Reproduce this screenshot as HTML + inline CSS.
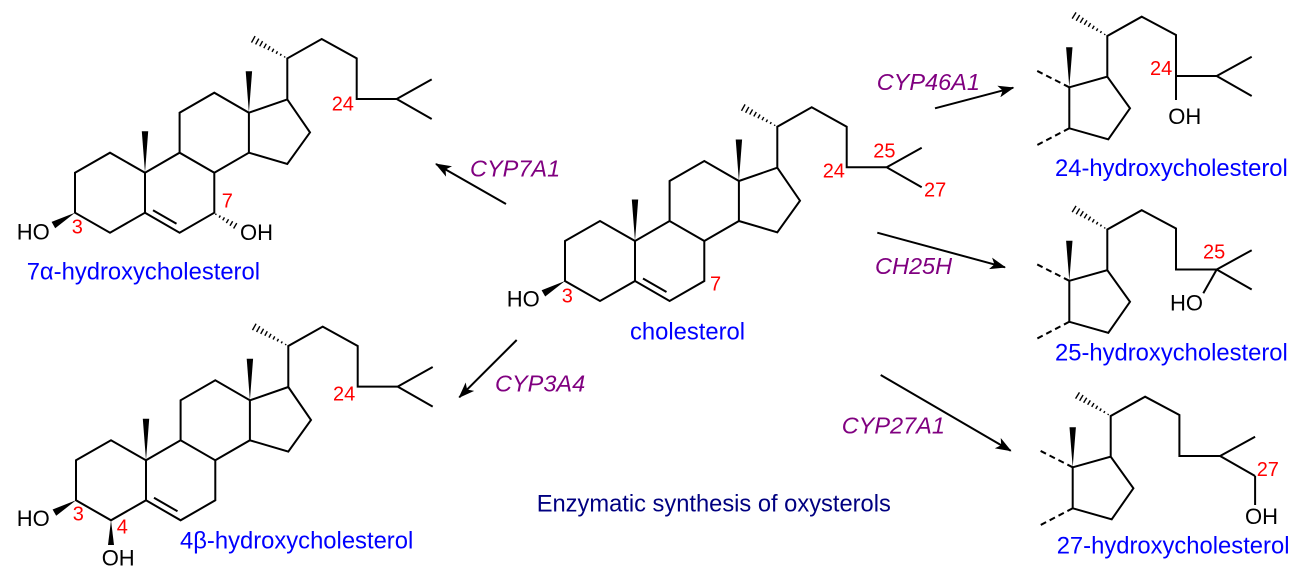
<!DOCTYPE html>
<html>
<head>
<meta charset="utf-8">
<style>
  html,body{margin:0;padding:0;background:#fff;}
  svg{display:block;}
  text{font-family:"Liberation Sans",Arial,sans-serif;}
  .lbl{font-size:23.8px;fill:#0000ff;}
  .enz{font-size:23.5px;fill:#800080;font-style:italic;}
  .atom{font-size:22px;fill:#000;}
  .num{font-size:20px;fill:#ff0000;}
</style>
</head>
<body>
<svg width="1304" height="580" viewBox="0 0 1304 580" xmlns="http://www.w3.org/2000/svg">
  <defs>
    <g id="hash" stroke="#000" stroke-width="1.4">
      <line x1="3" y1="-0.65" x2="3" y2="0.65"/>
      <line x1="7.5" y1="-1.04" x2="7.5" y2="1.04"/>
      <line x1="12" y1="-1.42" x2="12" y2="1.42"/>
      <line x1="16.5" y1="-1.8" x2="16.5" y2="1.8"/>
      <line x1="21" y1="-2.19" x2="21" y2="2.19"/>
      <line x1="25.5" y1="-2.57" x2="25.5" y2="2.57"/>
      <line x1="30" y1="-2.95" x2="30" y2="2.95"/>
      <line x1="34.5" y1="-3.33" x2="34.5" y2="3.33"/>
      <line x1="39" y1="-3.7" x2="39" y2="3.7"/>
    </g>
    <g id="hashS" stroke="#000" stroke-width="1.4">
      <line x1="3" y1="-0.7" x2="3" y2="0.7"/>
      <line x1="7.5" y1="-1.2" x2="7.5" y2="1.2"/>
      <line x1="12" y1="-1.7" x2="12" y2="1.7"/>
      <line x1="16.5" y1="-2.2" x2="16.5" y2="2.2"/>
      <line x1="21" y1="-2.6" x2="21" y2="2.6"/>
      <line x1="25.5" y1="-3.1" x2="25.5" y2="3.1"/>
    </g>
    <marker id="ah" markerUnits="userSpaceOnUse" markerWidth="16" markerHeight="12" viewBox="0 0 16 12" refX="15" refY="6" orient="auto">
      <path d="M0,0 L16,6 L0,12 L4,6 Z" fill="#000"/>
    </marker>

    <g id="chol">
      <path fill="none" stroke="#000" stroke-width="2" d="
        M565,241 L600,221 L635,241 L635,281 L600,301 L565,281 Z
        M635,241 L669.6,221 L704.3,241 L704.3,281 L669.6,301 L635,281
        M669.6,221 L669.6,181 L704.3,161 L738.9,181 L738.9,221 L704.3,241
        M738.9,181 L777.3,167.7 L800,200.7 L777.3,232.3 L738.9,221
        M777.3,167.7 L777.3,126.7 L811.7,107.3 L846.7,126.7 L846.7,167.3 L886.7,167.3 L921.7,147.7
        M886.7,167.3 L921.7,187.3
        M643,278.5 L666.5,292"/>
      <polygon points="635,241 631.8,199.5 638.2,199.5" fill="#000"/>
      <polygon points="738.9,181 735.7,139.5 742.1,139.5" fill="#000"/>
      <polygon points="565,281 545.2,296.5 541.6,290.2" fill="#000"/>
      <use href="#hash" transform="translate(777.3,126.7) rotate(209.3)"/>
    </g>

    <g id="frag">
      <path fill="none" stroke="#000" stroke-width="2" d="
        M1069.3,87.3 L1107.3,76.7 L1130,108.3 L1108.3,139.3 L1069.3,128.3 Z
        M1107.3,76.7 L1107.3,36 L1141.7,16.7 L1176,35 L1176,76 L1216.7,76 L1251.7,56.7
        M1216.7,76 L1251.7,96"/>
      <path fill="none" stroke="#000" stroke-width="2" stroke-dasharray="6,4" d="M1069.3,87.3 L1034,69.3 M1069.3,128.3 L1034,146.7"/>
      <polygon points="1069.3,87.3 1066.1,47.3 1072.5,47.3" fill="#000"/>
      <use href="#hash" transform="translate(1107.3,36) rotate(211.7)"/>
    </g>
  </defs>

  <use href="#chol"/>
  <text class="atom" x="506.7" y="306.5">HO</text>
  <text class="num" x="561.7" y="302.7">3</text>
  <text class="num" x="710" y="290.7">7</text>
  <text class="num" x="822.7" y="177.7">24</text>
  <text class="num" x="873.3" y="157.3">25</text>
  <text class="num" x="924" y="196.7">27</text>
  <text class="lbl" x="630" y="339.3">cholesterol</text>

  <use href="#chol" transform="translate(-490,-68.3)"/>
  <use href="#hashS" transform="translate(213.3,212.7) rotate(30.9)"/>
  <text class="atom" x="16.7" y="239.5">HO</text>
  <text class="num" x="71.7" y="233.3">3</text>
  <text class="num" x="221.7" y="207.7">7</text>
  <text class="atom" x="240" y="240">OH</text>
  <text class="num" x="331.7" y="110.7">24</text>
  <text class="lbl" x="26.7" y="279.3">7α-hydroxycholesterol</text>

  <use href="#chol" transform="translate(-489,219.3)"/>
  <polygon points="111,520.3 108,545 114,545" fill="#000"/>
  <text class="atom" x="16.7" y="526">HO</text>
  <text class="num" x="72.7" y="520.7">3</text>
  <text class="num" x="116.7" y="533.3">4</text>
  <text class="atom" x="101.7" y="565.7">OH</text>
  <text class="num" x="333" y="400.7">24</text>
  <text class="lbl" x="180" y="548.3">4β-hydroxycholesterol</text>

  <use href="#frag"/>
  <line x1="1176" y1="76" x2="1176" y2="100" stroke="#000" stroke-width="2"/>
  <text class="num" x="1150" y="75">24</text>
  <text class="atom" x="1168.3" y="124">OH</text>
  <text class="lbl" x="1055" y="176">24-hydroxycholesterol</text>

  <use href="#frag" transform="translate(0,193.5)"/>
  <line x1="1216.7" y1="269.5" x2="1203.3" y2="293.3" stroke="#000" stroke-width="2"/>
  <text class="num" x="1203" y="258.3">25</text>
  <text class="atom" x="1170" y="310.7">HO</text>
  <text class="lbl" x="1055" y="360.7">25-hydroxycholesterol</text>

  <use href="#frag" transform="translate(3.4,380)"/>
  <line x1="1255.1" y1="476" x2="1255.1" y2="505" stroke="#000" stroke-width="2"/>
  <text class="num" x="1256.7" y="476">27</text>
  <text class="atom" x="1245" y="524">OH</text>
  <text class="lbl" x="1056.7" y="553.3">27-hydroxycholesterol</text>

  <g stroke="#000" stroke-width="2" marker-end="url(#ah)">
    <line x1="506" y1="204" x2="436" y2="164"/>
    <line x1="516.7" y1="340" x2="459.3" y2="397.3"/>
    <line x1="935" y1="108.3" x2="1013.3" y2="87.7"/>
    <line x1="877.3" y1="232.7" x2="1005" y2="267.3"/>
    <line x1="880.7" y1="375" x2="1010.7" y2="450.7"/>
  </g>

  <text class="enz" x="470" y="176.7">CYP7A1</text>
  <text class="enz" x="495" y="391.7">CYP3A4</text>
  <text class="enz" x="876.7" y="90">CYP46A1</text>
  <text class="enz" x="875" y="274">CH25H</text>
  <text class="enz" x="841.7" y="433.3">CYP27A1</text>

  <text x="536.7" y="511.7" style="font-size:23.7px;fill:#000080;">Enzymatic synthesis of oxysterols</text>
</svg>
</body>
</html>
